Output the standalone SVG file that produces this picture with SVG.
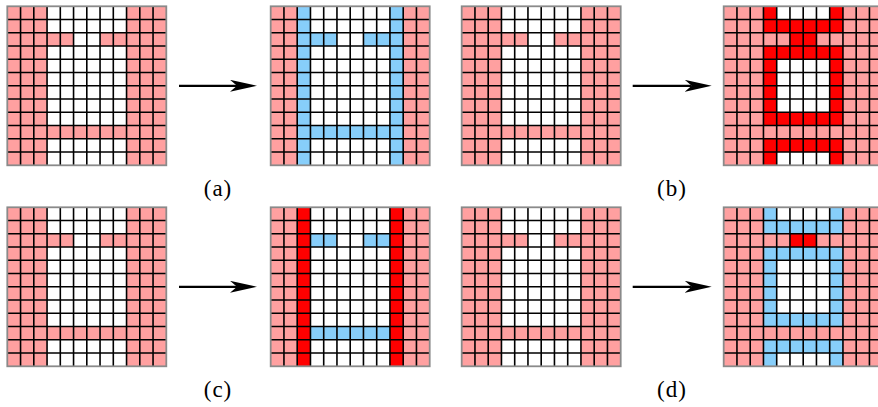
<svg xmlns="http://www.w3.org/2000/svg" xmlns:xlink="http://www.w3.org/1999/xlink" width="878" height="407" viewBox="0 0 878 407">
<style>
.pk{fill:#ffa0a0}
.bl{fill:#87cefa}
.rd{fill:#ff0000}
.wh{fill:#ffffff}
.gl{fill:none;stroke:#000;stroke-width:1.6}
.bd{fill:none;stroke:#8a8a8a;stroke-width:1.8}
.ar{fill:none;stroke:#000;stroke-width:2.2}
.lb{font-family:"Liberation Serif","DejaVu Serif",serif;font-size:23px;letter-spacing:1px;fill:#000;text-anchor:middle}
</style>
<defs>
<g id="base">
<rect class="wh" x="0" y="0" width="159" height="159"/>
<rect class="pk" x="0" y="0" width="39.75" height="159"/>
<rect class="pk" x="119.25" y="0" width="39.75" height="159"/>
<rect class="pk" x="39.75" y="26.5" width="26.5" height="13.25"/>
<rect class="pk" x="92.75" y="26.5" width="26.5" height="13.25"/>
<rect class="pk" x="39.75" y="119.25" width="79.5" height="13.25"/>
</g>
<path id="lines" class="gl" d="M13.25,0V159M26.5,0V159M39.75,0V159M53,0V159M66.25,0V159M79.5,0V159M92.75,0V159M106,0V159M119.25,0V159M132.5,0V159M145.75,0V159M0,13.25H159M0,26.5H159M0,39.75H159M0,53H159M0,66.25H159M0,79.5H159M0,92.75H159M0,106H159M0,119.25H159M0,132.5H159M0,145.75H159"/>
<rect id="border" class="bd" x="0" y="0" width="159" height="159"/>
<g id="ring">
<rect x="39.75" y="0" width="13.25" height="26.5"/>
<rect x="39.75" y="39.75" width="13.25" height="79.5"/>
<rect x="39.75" y="132.5" width="13.25" height="26.5"/>
<rect x="106" y="0" width="13.25" height="26.5"/>
<rect x="106" y="39.75" width="13.25" height="79.5"/>
<rect x="106" y="132.5" width="13.25" height="26.5"/>
<rect x="39.75" y="13.25" width="79.5" height="13.25"/>
<rect x="39.75" y="39.75" width="79.5" height="13.25"/>
<rect x="39.75" y="106" width="79.5" height="13.25"/>
<rect x="39.75" y="132.5" width="79.5" height="13.25"/>
</g>
<g id="inner">
<rect x="39.75" y="26.5" width="26.5" height="13.25"/>
<rect x="92.75" y="26.5" width="26.5" height="13.25"/>
<rect x="39.75" y="119.25" width="79.5" height="13.25"/>
</g>
<marker id="head" markerUnits="userSpaceOnUse" viewBox="0 0 27 12" refX="7" refY="6" markerWidth="27" markerHeight="12" orient="auto">
<path d="M0,0 L27,6 L0,12 L7,6 Z" fill="#000"/>
</marker>
</defs>

<g id="grid-a-in" transform="translate(7.3,6.3)">
<use xlink:href="#base"/>
<use xlink:href="#lines"/>
<use xlink:href="#border"/>
</g>
<g id="grid-a-out" transform="translate(270.7,6.3)">
<use xlink:href="#base"/>
<g class="bl">
<rect x="26.5" y="0" width="13.25" height="159"/>
<rect x="119.25" y="0" width="13.25" height="159"/>
<use xlink:href="#inner"/>
</g>
<use xlink:href="#lines"/>
<use xlink:href="#border"/>
</g>
<g id="grid-b-in" transform="translate(461.7,6.3)">
<use xlink:href="#base"/>
<use xlink:href="#lines"/>
<use xlink:href="#border"/>
</g>
<g id="grid-b-out" transform="translate(723.7,6.3)">
<use xlink:href="#base"/>
<g class="rd">
<use xlink:href="#ring"/>
<rect x="66.25" y="26.5" width="26.5" height="13.25"/>
</g>
<use xlink:href="#lines"/>
<use xlink:href="#border"/>
</g>

<g id="grid-c-in" transform="translate(7.3,207.3)">
<use xlink:href="#base"/>
<use xlink:href="#lines"/>
<use xlink:href="#border"/>
</g>
<g id="grid-c-out" transform="translate(270.7,207.3)">
<use xlink:href="#base"/>
<g class="rd">
<rect x="26.5" y="0" width="13.25" height="159"/>
<rect x="119.25" y="0" width="13.25" height="159"/>
</g>
<g class="bl"><use xlink:href="#inner"/></g>
<use xlink:href="#lines"/>
<use xlink:href="#border"/>
</g>
<g id="grid-d-in" transform="translate(461.7,207.3)">
<use xlink:href="#base"/>
<use xlink:href="#lines"/>
<use xlink:href="#border"/>
</g>
<g id="grid-d-out" transform="translate(723.7,207.3)">
<use xlink:href="#base"/>
<g class="bl"><use xlink:href="#ring"/></g>
<rect class="rd" x="66.25" y="26.5" width="26.5" height="13.25"/>
<use xlink:href="#lines"/>
<use xlink:href="#border"/>
</g>

<g id="connectors">
<path class="ar" d="M179,85.8 H237" marker-end="url(#head)"/>
<path class="ar" d="M632.7,85.8 H691.7" marker-end="url(#head)"/>
<path class="ar" d="M179,286.8 H237" marker-end="url(#head)"/>
<path class="ar" d="M632.7,286.8 H691.7" marker-end="url(#head)"/>
</g>

<g id="labels">
<text class="lb" x="218" y="196">(a)</text>
<text class="lb" x="672" y="196">(b)</text>
<text class="lb" x="218" y="397">(c)</text>
<text class="lb" x="672" y="397">(d)</text>
</g>
</svg>
